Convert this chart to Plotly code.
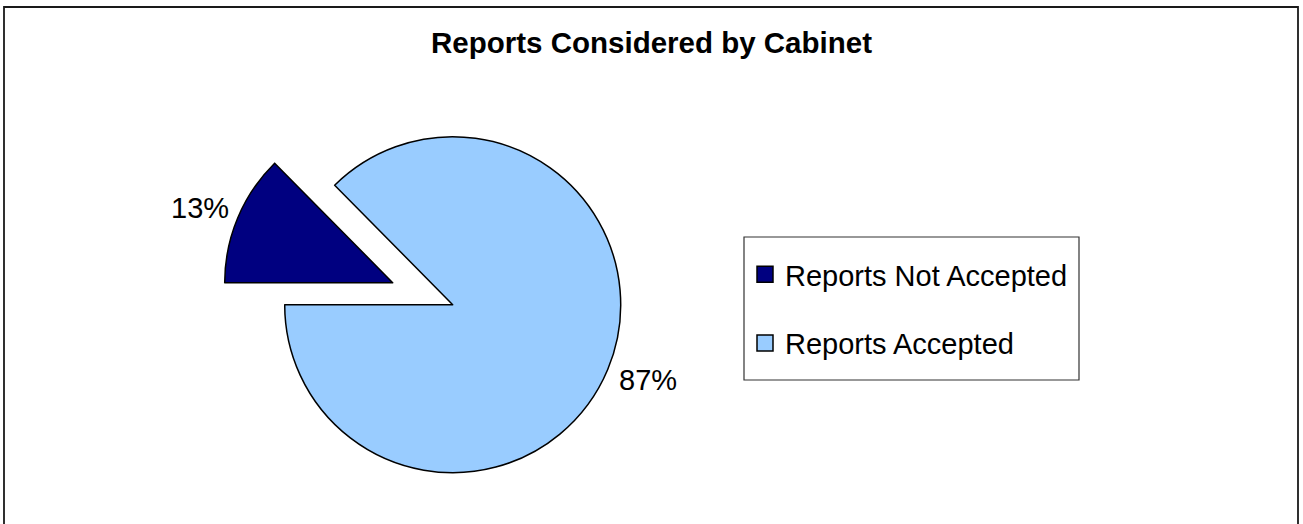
import plotly.graph_objects as go

W, H = 1303, 524

# ---- data ----
labels = ["Reports Not Accepted", "Reports Accepted"]
values = [12.6, 87.4]
colors = ["#000080", "#99CCFF"]
title = "Reports Considered by Cabinet"

FONT = "Arial, Liberation Sans, sans-serif"
TRANSP = "rgba(0,0,0,0)"

def px_dom(cx, cy, r):
    return dict(x=[(cx - r) / W, (cx + r) / W],
                y=[1 - (cy + r) / H, 1 - (cy - r) / H])

R = 168
main_c = (452.7, 304.7)
pulled_c = (392.7, 282.7)

fig = go.Figure()

# main pie: accepted slice drawn here
fig.add_trace(go.Pie(
    labels=labels, values=values, sort=False, direction="clockwise", rotation=270,
    marker=dict(colors=[TRANSP, colors[1]],
                line=dict(color=[TRANSP, "black"], width=[0, 1.5])),
    textinfo="none",
    domain=px_dom(*main_c, R), showlegend=False, hoverinfo="skip",
))
# exploded slice: not accepted
fig.add_trace(go.Pie(
    labels=labels, values=values, sort=False, direction="clockwise", rotation=270,
    marker=dict(colors=[colors[0], TRANSP],
                line=dict(color=["black", TRANSP], width=[1.5, 0])),
    textinfo="none",
    domain=px_dom(*pulled_c, R), showlegend=False, hoverinfo="skip",
))

# legend entries
for i, (lab, col) in enumerate(zip(labels, colors)):
    fig.add_trace(go.Scatter(
        x=[None], y=[None], mode="markers", name=lab, legendgroup=f"g{i}",
        marker=dict(symbol="square", size=16, color=col, line=dict(color="black", width=1.5)),
    ))

# percentage labels (text from the values)
total = sum(values)
pcts = [f"{round(v / total * 100)}%" for v in values]
label_pos = [(199.5, 207.5), (647.5, 379.5)]  # pixel centres of the labels
annotations = [
    dict(text=t, x=px / W, y=1 - py / H, xref="paper", yref="paper",
         xanchor="center", yanchor="middle", showarrow=False,
         font=dict(family=FONT, size=29, color="black"))
    for t, (px, py) in zip(pcts, label_pos)
]

shapes = [
    # legend frame
    dict(type="rect", xref="paper", yref="paper",
         x0=744 / W, x1=1079 / W, y0=1 - 380 / H, y1=1 - 237 / H,
         line=dict(color="#333333", width=1.2), fillcolor="rgba(0,0,0,0)", layer="below"),
    # chart outer frame (open at bottom)
    dict(type="path", xref="paper", yref="paper",
         path=f"M {4/W},-0.05 L {4/W},{1-7/H} L {1298/W},{1-7/H} L {1298/W},-0.05",
         line=dict(color="#1a1a1a", width=1.8)),
]

fig.update_layout(
    width=W, height=H, margin=dict(l=0, r=0, t=0, b=0),
    paper_bgcolor="white", plot_bgcolor="white",
    title=dict(text=title, x=0.5, xanchor="center", xref="paper",
               y=1 - 43 / H, yref="container", yanchor="middle",
               font=dict(family=FONT, size=29.5, color="black", weight="bold")),
    xaxis=dict(visible=False), yaxis=dict(visible=False),
    legend=dict(x=745 / W, xanchor="left", y=1 - 249 / H, yanchor="top",
                font=dict(family=FONT, size=29, color="black"),
                bgcolor="rgba(0,0,0,0)", borderwidth=0, tracegroupgap=28,
                itemclick=False, itemdoubleclick=False),
    shapes=shapes,
    annotations=annotations,
    showlegend=True,
)

fig.write_html("out.html")
